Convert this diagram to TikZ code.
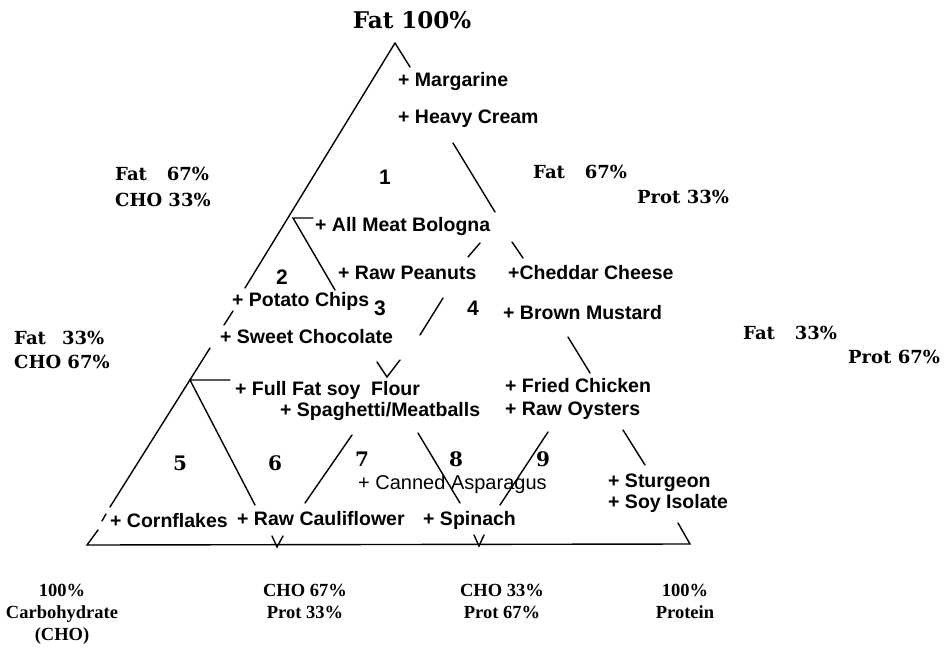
\documentclass[tikz,border=0pt]{standalone}
\usepackage{fontspec}
\setmainfont{DejaVu Serif}
\newfontfamily\foodfont{Liberation Sans}
\newfontfamily\axisfont{Liberation Serif}
\usetikzlibrary{calc}

\tikzset{
  edge/.style={line width=1.4pt, line cap=round},
  food/.style={anchor=west, inner sep=0pt, text height=14pt, text depth=0pt,
    font=\foodfont\bfseries\fontsize{19.5}{22}\selectfont},
  foodlight/.style={food, font=\foodfont\fontsize{20}{22}\selectfont},
  side/.style={anchor=west, inner sep=0pt, text height=13pt, text depth=0pt,
    font=\bfseries\fontsize{18}{21}\selectfont},
  corner/.style={anchor=north, inner sep=0pt, align=center,
    font=\axisfont\bfseries\fontsize{18.5}{22}\selectfont},
  zone/.style={inner sep=0pt, font=\foodfont\bfseries\fontsize{21}{24}\selectfont},
  zonelow/.style={inner sep=0pt, font=\bfseries\fontsize{20}{24}\selectfont}
}

\begin{document}
\begin{tikzpicture}[x=1pt, y=-1pt]
\useasboundingbox (0,0) rectangle (945,650);

% corners of the big triangle
\coordinate (fat) at (395,43);
\coordinate (cho) at (87,545);
\coordinate (prot) at (690,544);

% outline, broken where the foods sit
\draw[edge] (fat) -- (245,288);
\draw[edge] (233,311) -- (224,325);
\draw[edge] (210,348) -- (110,507);
\draw[edge] (106,514) -- (102,521);
\draw[edge] (98,530) -- (cho) -- (prot) -- (678,523);
\draw[edge] (fat) -- (410,67);
\draw[edge] (453,143) -- (495,212);
\draw[edge] (512,242) -- (523,258);
\draw[edge] (568,337) -- (590,373);
\draw[edge] (623,430) -- (645,465);

% inner grid
\draw[edge] (313,218) -- (293,218) -- (335,290);
\draw[edge] (480,243) -- (468,257);
\draw[edge] (443,298) -- (420,335);
\draw[edge] (377,362) -- (387,377) -- (400,360);
\draw[edge] (230,380) -- (190,380) -- (255,505);
\draw[edge] (352,435) -- (305,503);
\draw[edge] (418,433) -- (460,503);
\draw[edge] (548,432) -- (500,505);
\draw[edge] (272,536) -- (277,547) -- (283,536);
\draw[edge] (474,535) -- (479,546) -- (484,535);

% vertex and edge labels
\node[side, anchor=center, font=\bfseries\fontsize{23}{26}\selectfont] (fattop) at (412,22) {Fat 100\%};
\node[side] (fat67l) at (115,174) {Fat\hspace{1.1em}67\%};
\node[side] (cho33l) at (115,200) {CHO 33\%};
\node[side] (fat33l) at (14,338) {Fat\hspace{0.9em}33\%};
\node[side] (cho67l) at (14,362) {CHO 67\%};
\node[side] (fat67r) at (533,172) {Fat\hspace{1.1em}67\%};
\node[side] (prot33r) at (637,197) {Prot 33\%};
\node[side] (fat33r) at (743,333) {Fat\hspace{1.1em}33\%};
\node[side] (prot67r) at (848,357) {Prot 67\%};

\node[corner] (chocorner) at (62,584) {100\%\\Carbohydrate\\(CHO)};
\node[corner] (mix1) at (305,584) {CHO 67\%\\Prot 33\%};
\node[corner] (mix2) at (502,584) {CHO 33\%\\Prot 67\%};
\node[corner] (protcorner) at (685,584) {100\%\\Protein};

% zone numbers
\node[zone] (z1) at (385,177) {1};
\node[zone] (z2) at (282,277) {2};
\node[zone] (z3) at (380,308) {3};
\node[zone] (z4) at (473,308) {4};
\node[zonelow] (z5) at (180,463) {5};
\node[zonelow] (z6) at (275,463) {6};
\node[zonelow] (z7) at (362,459) {7};
\node[zonelow] (z8) at (456,459) {8};
\node[zonelow] (z9) at (543,459) {9};

% foods
\node[food] (margarine) at (398,80) {+ Margarine};
\node[food] (cream) at (398,117) {+ Heavy Cream};
\node[food] (bologna) at (315,224) {+ All Meat Bologna};
\node[food] (peanuts) at (338,272) {+ Raw Peanuts};
\node[food] (cheddar) at (508,272) {+Cheddar Cheese};
\node[food] (mustard) at (503,312) {+ Brown Mustard};
\node[food] (chips) at (232,299) {+ Potato Chips};
\node[food] (chocolate) at (220,336) {+ Sweet Chocolate};
\node[food] (soyflour) at (235,388) {+ Full Fat soy\ \ Flour};
\node[food] (spaghetti) at (280,409) {+ Spaghetti/Meatballs};
\node[food] (chicken) at (505,385) {+ Fried Chicken};
\node[food] (oysters) at (505,408) {+ Raw Oysters};
\node[foodlight] (asparagus) at (358,482) {+ Canned Asparagus};
\node[food] (sturgeon) at (608,480) {+ Sturgeon};
\node[food] (soyisolate) at (608,501) {+ Soy Isolate};
\node[food] (cornflakes) at (110,520) {+ Cornflakes};
\node[food] (cauliflower) at (237,518) {+ Raw Cauliflower};
\node[food] (spinach) at (423,518) {+ Spinach};
\end{tikzpicture}
\end{document}
